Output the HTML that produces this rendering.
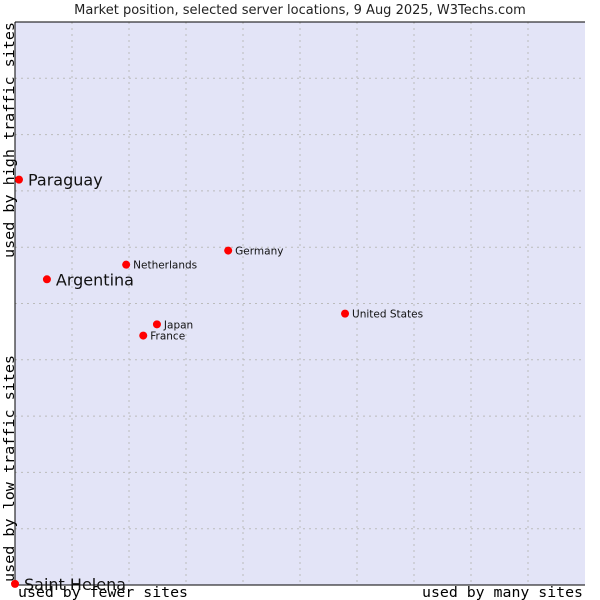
<!DOCTYPE html>
<html><head><meta charset="utf-8"><style>
body{margin:0;background:#fff;}
svg{display:block;font-family:"DejaVu Sans","Liberation Sans",sans-serif;}
</style></head><body>
<svg id="chart" width="600" height="600">
<text x="300" y="14" text-anchor="middle" font-size="13" fill="#222">Market position, selected server locations, 9 Aug 2025, W3Techs.com</text>
<rect x="15" y="22" width="570" height="563" fill="#e3e4f7"/>
<g id="grid"></g>
<line x1="15" y1="22" x2="585" y2="22" stroke="#000"/>
<line x1="15" y1="22" x2="15" y2="585" stroke="#000"/>
<line x1="15" y1="585" x2="585" y2="585" stroke="#000"/>
<g id="points"></g>
<text x="18" y="597" textLength="170" lengthAdjust="spacingAndGlyphs" font-family="DejaVu Sans Mono, Liberation Mono, monospace" font-size="14" fill="#000">used by fewer sites</text>
<text x="422" y="597" textLength="161" lengthAdjust="spacingAndGlyphs" font-family="DejaVu Sans Mono, Liberation Mono, monospace" font-size="14" fill="#000">used by many sites</text>
<text transform="translate(14,582) rotate(-90)" textLength="227" lengthAdjust="spacingAndGlyphs" font-family="DejaVu Sans Mono, Liberation Mono, monospace" font-size="14" fill="#000">used by low traffic sites</text>
<text transform="translate(14,258) rotate(-90)" textLength="236" lengthAdjust="spacingAndGlyphs" font-family="DejaVu Sans Mono, Liberation Mono, monospace" font-size="14" fill="#000">used by high traffic sites</text>
</svg>
<script>
const countries=["Paraguay","Argentina","Netherlands","Germany","United States","Japan","France","Saint Helena"];
const xValues=[0.7,5.6,19.5,37.4,57.9,24.9,22.5,0];
const yValues=[72,54.3,56.9,59.4,48.2,46.3,44.3,0.2];
const bigLabel=[true,true,false,false,false,false,false,true];
const NS="http://www.w3.org/2000/svg";
const X0=15,X1=585,Y0=585,Y1=22;
const sx=v=>X0+(X1-X0)*v/100;
const sy=v=>Y0-(Y0-Y1)*v/100;
const grid=document.getElementById('grid');
for(let i=1;i<10;i++){
  const l=document.createElementNS(NS,'line');
  
  
  l.setAttribute('x1',sx(i*10));l.setAttribute('x2',sx(i*10));l.setAttribute('y1',Y1);l.setAttribute('y2',Y0);
  l.setAttribute('stroke','#bbb');l.setAttribute('stroke-dasharray','2,4');
  grid.appendChild(l);
  const h=document.createElementNS(NS,'line');
  
  
  h.setAttribute('y1',sy(i*10));h.setAttribute('y2',sy(i*10));h.setAttribute('x1',X0);h.setAttribute('x2',X1);
  h.setAttribute('stroke','#bbb');h.setAttribute('stroke-dasharray','2,4');
  grid.appendChild(h);
}
const pts=document.getElementById('points');
countries.forEach((c,i)=>{
  const x=sx(xValues[i]),y=sy(yValues[i]);
  const d=document.createElementNS(NS,'circle');
  
  
  d.setAttribute('cx',x);d.setAttribute('cy',y);d.setAttribute('r',4);d.setAttribute('fill','#f00');
  pts.appendChild(d);
  const t=document.createElementNS(NS,'text');
  
  
  t.setAttribute('x',x+(bigLabel[i]?9:7));t.setAttribute('y',y+(bigLabel[i]?6:4));
  t.setAttribute('font-size',bigLabel[i]?16:10.5);t.setAttribute('fill','#111');
  t.textContent=c;
  pts.appendChild(t);
});
</script>
</body></html>
